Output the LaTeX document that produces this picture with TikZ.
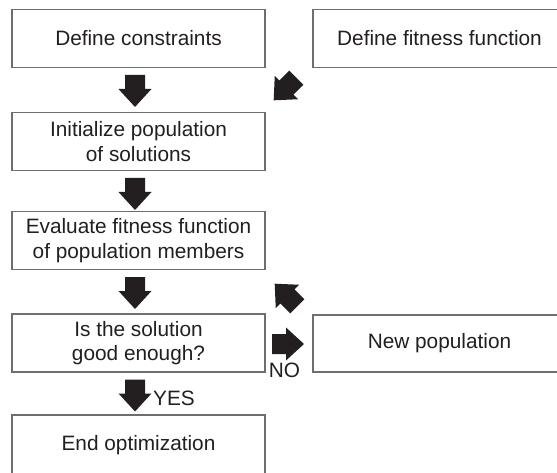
\documentclass[tikz,border=0pt]{standalone}
\usepackage{fontspec}
\setmainfont{Liberation Sans}
\definecolor{ink}{HTML}{231F20}
\definecolor{frame}{HTML}{6D6E71}
\tikzset{
  stepbox/.style={draw=frame, line width=1.1pt, fill=white, minimum width=253pt,
    minimum height=58pt, inner sep=0pt, align=center, text=ink,
    font=\fontsize{20.8}{24.5}\selectfont},
  blockarrow/.pic={
    \fill[ink] (-16,-10) -- (-2,-10) -- (-2,-16.5) -- (16,0)
      -- (-2,16.5) -- (-2,10) -- (-16,10) -- cycle;},
  tag/.style={text=ink, inner sep=0pt, font=\fontsize{20.8}{24.5}\selectfont}
}
\begin{document}
\begin{tikzpicture}[x=1pt, y=-1pt]
  \useasboundingbox (0,0) rectangle (557,473);
  % left column
  \node[stepbox] (constr) at (138.5,38.5) {Define constraints};
  \node[stepbox] (init) at (138.5,141.5) {Initialize population\\ of solutions};
  \node[stepbox] (eval) at (138.5,240.5) {Evaluate fitness function\\ of population members};
  \node[stepbox] (check) at (138.5,343) {Is the solution\\ good enough?};
  \node[stepbox, minimum height=60pt] (finish) at (138.5,445) {End optimization};
  % right column
  \node[stepbox] (fitness) at (439.5,38.5) {Define fitness function};
  \node[stepbox, minimum height=57pt] (newpop) at (439.5,343.5) {New population};
  % block arrows
  \pic[rotate=-90] (a1) at (135,91) {blockarrow};
  \pic[rotate=-90] (a2) at (135,194) {blockarrow};
  \pic[rotate=-90] (a3) at (135,293) {blockarrow};
  \pic[rotate=-90] (a4) at (135,395.5) {blockarrow};
  \pic[rotate=-135] (d1) at (285,89) {blockarrow};
  \pic[rotate=135] (d2) at (286,295) {blockarrow};
  \pic (r1) at (288,344) {blockarrow};
  % labels
  \node[tag, anchor=west] (yes) at (153,398.5) {YES};
  \node[tag] (no) at (284.5,370.5) {NO};
\end{tikzpicture}
\end{document}
